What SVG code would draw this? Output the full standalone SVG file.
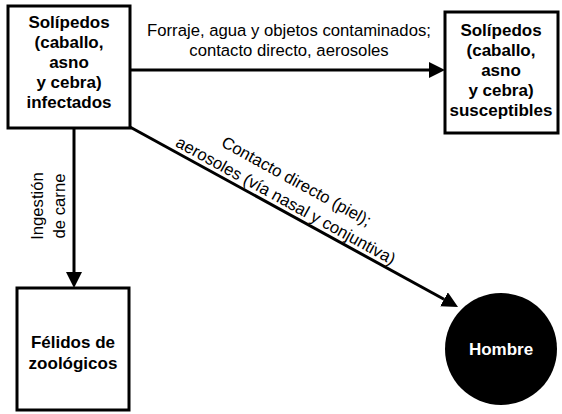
<svg xmlns="http://www.w3.org/2000/svg" width="562" height="414" viewBox="0 0 562 414">
<style>
.box{fill:#fff;stroke:#000;stroke-width:3}
.b{font-family:"Liberation Sans",Arial,sans-serif;font-weight:bold;font-size:17px;text-anchor:middle;fill:#000}
.r{font-family:"Liberation Sans",Arial,sans-serif;font-size:16.7px;text-anchor:middle;fill:#000}
.w{fill:#fff}
.ln{stroke:#000;stroke-width:3;fill:none}
</style>
<defs>
<marker id="ah" viewBox="0 0 16 16" refX="0" refY="8" markerWidth="16" markerHeight="16" markerUnits="userSpaceOnUse" orient="auto">
<path d="M0,0 L16,8 L0,16 z" fill="#000"/>
</marker>
</defs>
<rect width="562" height="414" fill="#fff"/>
<g id="connectors">
<line class="ln" x1="130" y1="70" x2="429" y2="70" marker-end="url(#ah)"/>
<line class="ln" x1="74" y1="128" x2="74" y2="272" marker-end="url(#ah)"/>
<line class="ln" x1="130" y1="127" x2="444" y2="299.3" marker-end="url(#ah)"/>
<text class="r" x="289" y="36">Forraje, agua y objetos contaminados;</text>
<text class="r" x="289" y="56">contacto directo, aerosoles</text>
<g transform="translate(74,206) rotate(-90)">
<text class="r" x="0" y="-31">Ingestión</text>
<text class="r" x="0" y="-9">de carne</text>
</g>
<g transform="translate(130,127) rotate(28.8)">
<text class="r" x="172" y="-27">Contacto directo (piel);</text>
<text class="r" x="172" y="-5">aerosoles (vía nasal y conjuntiva)</text>
</g>
</g>
<g id="infectados">
<rect class="box" x="8" y="6" width="122" height="122"/>
<text class="b" x="69" y="28">Solípedos</text>
<text class="b" x="69" y="48">(caballo,</text>
<text class="b" x="69" y="68">asno</text>
<text class="b" x="69" y="88">y cebra)</text>
<text class="b" x="69" y="108">infectados</text>
</g>
<g id="susceptibles">
<rect class="box" x="445" y="12" width="113" height="121"/>
<text class="b" x="501" y="36">Solípedos</text>
<text class="b" x="501" y="56">(caballo,</text>
<text class="b" x="501" y="76">asno</text>
<text class="b" x="501" y="96">y cebra)</text>
<text class="b" x="501" y="116">susceptibles</text>
</g>
<g id="felidos">
<rect class="box" x="17" y="288" width="112" height="122"/>
<text class="b" x="73" y="348">Félidos de</text>
<text class="b" x="73" y="369">zoológicos</text>
</g>
<g id="hombre">
<circle cx="501" cy="349" r="56" fill="#000"/>
<text class="b w" x="501" y="355">Hombre</text>
</g>
</svg>
